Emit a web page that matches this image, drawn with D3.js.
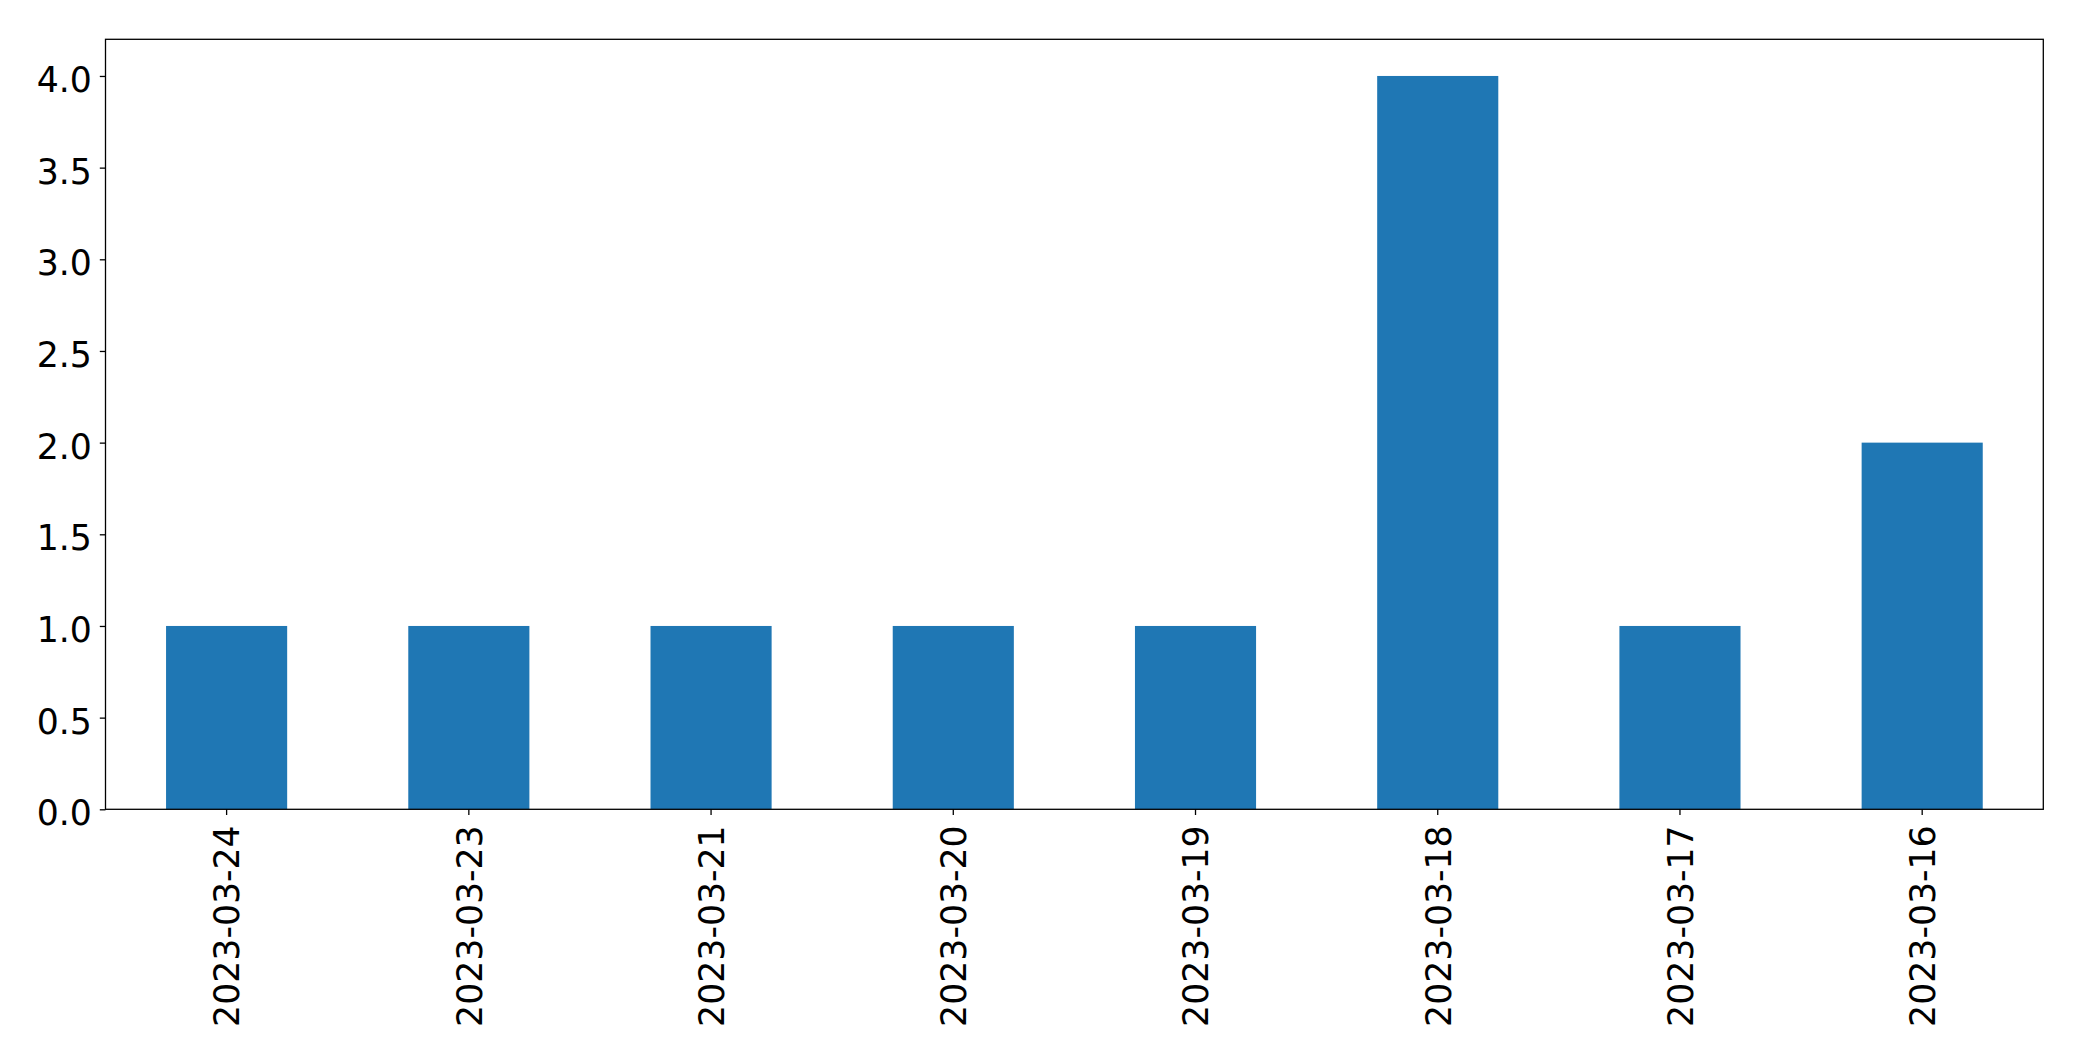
<!DOCTYPE html>
<html>
<head>
<meta charset="utf-8">
<script src="https://cdn.jsdelivr.net/npm/d3@7"></script>
<style>
  html, body { margin: 0; padding: 0; background: #fff; }
  svg { display: block; }
  text { font-family: "DejaVu Sans", sans-serif; fill: #000; }
</style>
</head>
<body>
<svg id="chart" width="2082" height="1061"></svg>
<script>
const categories = ["2023-03-24", "2023-03-23", "2023-03-21", "2023-03-20", "2023-03-19", "2023-03-18", "2023-03-17", "2023-03-16"];
const values = [1, 1, 1, 1, 1, 4, 1, 2];
const yTicks = [0, 0.5, 1, 1.5, 2, 2.5, 3, 3.5, 4];

const plotLeft = 105.5, plotRight = 2043.3, plotTop = 39.3, plotBottom = 809.3;
const svg = d3.select("#chart");

const x = d3.scaleBand().domain(categories).range([plotLeft, plotRight]).paddingInner(0.5).paddingOuter(0.25);
const y = d3.scaleLinear().domain([0, 4.2]).range([plotBottom, plotTop]);

svg.append("g").selectAll("rect").data(values).join("rect")
  .attr("x", (d, i) => x(categories[i]))
  .attr("width", x.bandwidth())
  .attr("y", d => y(d))
  .attr("height", d => y(0) - y(d))
  .attr("fill", "#1f77b4");

// y axis
const yAxis = svg.append("g").attr("transform", `translate(${plotLeft},0)`)
  .call(d3.axisLeft(y).tickValues(yTicks).tickFormat(d3.format(".1f")).tickSize(5.7).tickPadding(8));
yAxis.select(".domain").remove();
yAxis.selectAll("line").attr("stroke", "#000").attr("stroke-width", 1.3);
yAxis.selectAll("text").attr("font-size", "34.7px").attr("font-family", "DejaVu Sans").attr("dy", "15.6px");

// x axis
const xAxis = svg.append("g").attr("transform", `translate(0,${plotBottom})`)
  .call(d3.axisBottom(x).tickSize(5.7).tickSizeOuter(0));
xAxis.select(".domain").remove();
xAxis.selectAll("line").attr("stroke", "#000").attr("stroke-width", 1.3);
xAxis.selectAll("text")
  .attr("font-size", "34.7px").attr("font-family", "DejaVu Sans")
  .attr("text-anchor", "end")
  .attr("transform", "translate(0,16) rotate(-90)")
  .attr("x", 0).attr("y", 0).attr("dy", "12.8px");

// frame
svg.append("rect")
  .attr("x", plotLeft).attr("y", plotTop)
  .attr("width", plotRight - plotLeft).attr("height", plotBottom - plotTop)
  .attr("fill", "none").attr("stroke", "#000").attr("stroke-width", 1.3);
</script>
</body>
</html>
